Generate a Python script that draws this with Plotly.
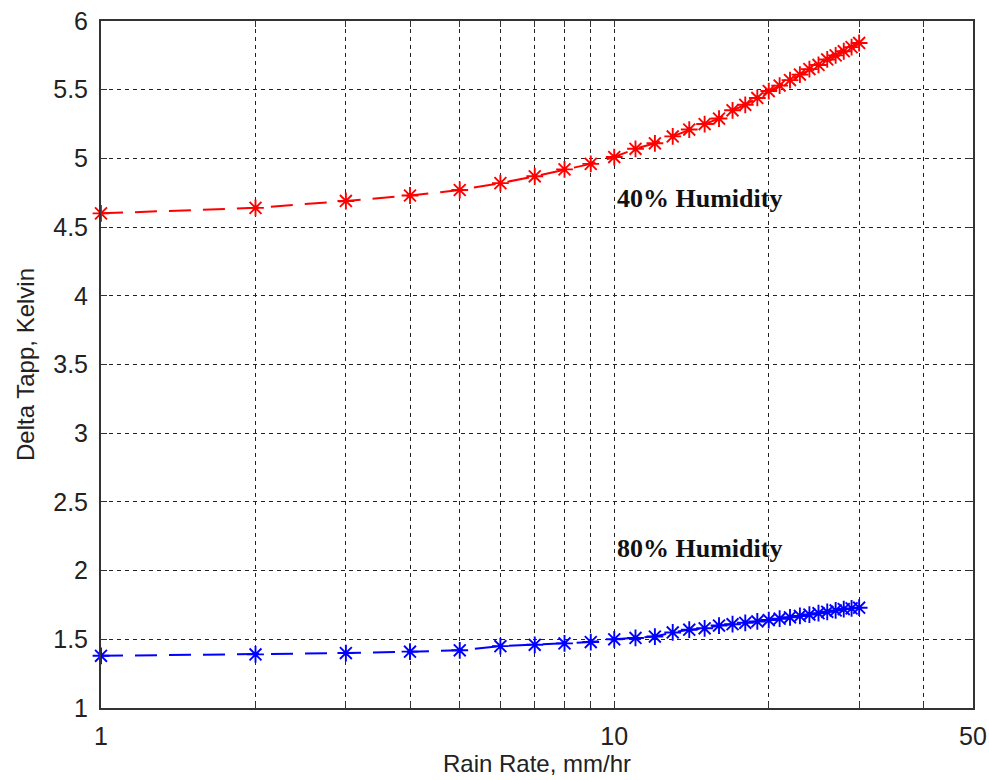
import math
import plotly.graph_objects as go

rain_rate = list(range(1, 31))
humidity40 = [4.60, 4.64, 4.69, 4.73, 4.77, 4.82, 4.87, 4.92, 4.96, 5.01,
              5.07, 5.11, 5.16, 5.21, 5.25, 5.29, 5.35, 5.39, 5.44, 5.49,
              5.53, 5.57, 5.61, 5.65, 5.68, 5.72, 5.75, 5.78, 5.81, 5.84]
humidity80 = [1.38, 1.39, 1.40, 1.41, 1.42, 1.45, 1.46, 1.47, 1.48, 1.50,
              1.51, 1.52, 1.55, 1.57, 1.58, 1.60, 1.61, 1.62, 1.63, 1.64,
              1.65, 1.66, 1.67, 1.68, 1.69, 1.70, 1.71, 1.72, 1.725, 1.73]
x_grid = [1, 2, 3, 4, 5, 6, 7, 8, 9, 10, 20, 30, 40, 50]
x_labels = ["1", "", "", "", "", "", "", "", "", "10", "", "", "", "50"]
y_ticks = [1, 1.5, 2, 2.5, 3, 3.5, 4, 4.5, 5, 5.5, 6]
y_labels = ["1", "1.5", "2", "2.5", "3", "3.5", "4", "4.5", "5", "5.5", "6"]

tick_font = dict(family="Liberation Sans, Arial", size=25, color="#222")
title_font = dict(family="Liberation Sans, Arial", size=24, color="#222")

fig = go.Figure()
for ys, col in [(humidity40, "#ff0000"), (humidity80, "#0000ff")]:
    fig.add_trace(go.Scatter(
        x=rain_rate, y=ys, mode="lines+markers",
        line=dict(color=col, width=2, dash="22px,12px"),
        marker=dict(symbol="asterisk-open", size=14, line=dict(color=col, width=1.9)),
        showlegend=False, cliponaxis=False))

fig.add_annotation(x=1.0, y=4.71, xref="x", yref="y", text="<b>40% Humidity</b>",
                   showarrow=False, xanchor="left", yanchor="middle", xshift=1,
                   font=dict(family="Liberation Serif, Times New Roman", size=26, color="#111"))
fig.add_annotation(x=1.0, y=2.16, xref="x", yref="y", text="<b>80% Humidity</b>",
                   showarrow=False, xanchor="left", yanchor="middle", xshift=1,
                   font=dict(family="Liberation Serif, Times New Roman", size=26, color="#111"))

grid = dict(showgrid=True, gridcolor="#222", gridwidth=1.2, griddash="4px,4px",
            showline=True, linecolor="#333", linewidth=2, mirror="ticks",
            ticks="inside", ticklen=6, tickcolor="#333", zeroline=False,
            tickfont=tick_font, automargin=False, ticklabeloverflow="allow")

fig.update_xaxes(type="log", range=[0, math.log10(50) + 1e-9], tickvals=x_grid, ticktext=x_labels,
                 ticklabelstandoff=5,
                 title=dict(text="Rain Rate, mm/hr", font=title_font, standoff=4), **grid)
fig.update_yaxes(range=[1, 6], tickvals=y_ticks, ticktext=y_labels,
                 ticklabelstandoff=6,
                 title=dict(text="Delta Tapp, Kelvin", font=title_font, standoff=12), **grid)

fig.update_layout(width=989, height=780, plot_bgcolor="white", paper_bgcolor="white",
                  margin=dict(l=101, r=16, t=21, b=72, autoexpand=False))
fig.write_html("out.html", config={"displayModeBar": False},
               post_script="document.body.style.margin='0';document.body.style.overflow='hidden';")
